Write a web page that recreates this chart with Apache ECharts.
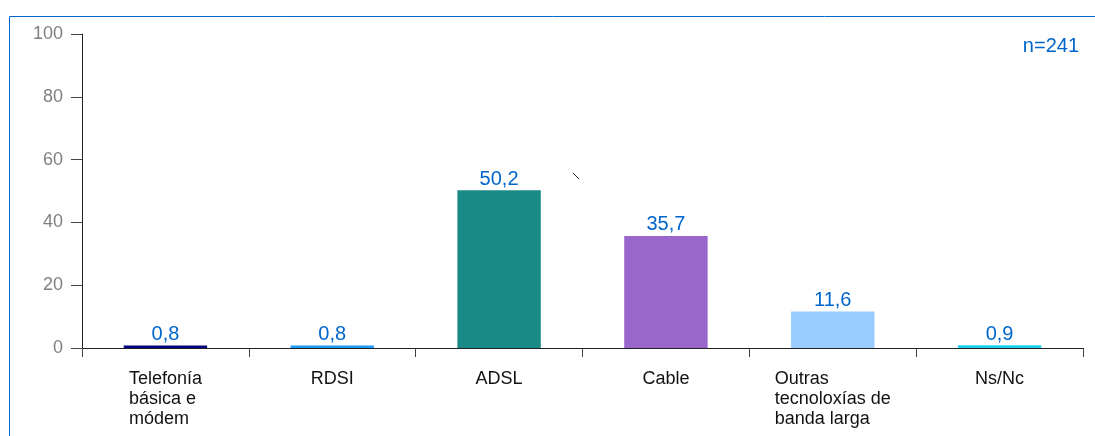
<!DOCTYPE html>
<html>
<head>
<meta charset="utf-8">
<script src="https://cdn.jsdelivr.net/npm/echarts@6/dist/echarts.min.js"></script>
<style>
html,body{margin:0;padding:0;background:#fff;}
#c{width:1095px;height:436px;}
</style>
</head>
<body>
<div id="c"></div>
<script>
var categories = ['Telefonía\nbásica e\nmódem', 'RDSI', 'ADSL', 'Cable', 'Outras\ntecnoloxías de\nbanda larga', 'Ns/Nc'];
var values = [0.8, 0.8, 50.2, 35.7, 11.6, 0.9];
var barColors = ['#000080', '#1a9cff', '#1a8a87', '#9966cc', '#99ccff', '#1ad1f0'];
var yTicks = [0, 20, 40, 60, 80, 100];
var note = 'n=241';

var chart = echarts.init(document.getElementById('c'), null, {renderer: 'canvas'});
var font = 'Arial, "Liberation Sans", sans-serif';
chart.setOption({
  animation: false,
  backgroundColor: '#fff',
  grid: {left: 82, right: 12, top: 34, bottom: 88, containLabel: false},
  xAxis: {
    type: 'category',
    data: categories,
    axisLine: {lineStyle: {color: '#222', width: 1}},
    axisTick: {show: true, interval: 0, length: 9, lineStyle: {color: '#444'}},
    axisLabel: {
      interval: 0,
      hideOverlap: false,
      margin: 21,
      fontFamily: font,
      fontSize: 18,
      color: '#111',
      lineHeight: 20,
      verticalAlign: 'top',
      formatter: function (v) {
        return v.split('\n').map(function (s) { return '{l|' + s + '}'; }).join('\n');
      },
      rich: {l: {align: 'left', fontFamily: font, fontSize: 18, color: '#111', lineHeight: 20}}
    }
  },
  yAxis: {
    type: 'value',
    min: 0, max: 100, interval: 20,
    axisLine: {show: true, lineStyle: {color: '#222', width: 1}},
    axisTick: {show: true, length: 11, lineStyle: {color: '#444'}},
    splitLine: {show: false},
    axisLabel: {
      margin: 19, fontFamily: font, fontSize: 18, color: '#808080',
      formatter: function (v) { return yTicks.indexOf(v) >= 0 ? String(v) : ''; }
    }
  },
  series: [{
    type: 'bar',
    barWidth: '50%',
    data: values.map(function (v, i) { return {value: v, itemStyle: {color: barColors[i]}}; }),
    label: {
      show: true, position: 'top', distance: 1,
      fontFamily: font, fontSize: 20, color: '#0066cc',
      formatter: function (p) { return String(p.value).replace('.', ','); }
    }
  }],
  graphic: [
    {type: 'polyline', shape: {points: [[9.5, 440], [9.5, 16.5], [1100, 16.5]]}, style: {stroke: '#0066cc', lineWidth: 1, fill: null}},
    {type: 'text', right: 16, top: 36, style: {text: note, fontFamily: font, fontSize: 20, fill: '#0066cc'}},
    {type: 'line', shape: {x1: 573, y1: 173, x2: 579, y2: 179}, style: {stroke: '#333', lineWidth: 1}}
  ]
});
</script>
</body>
</html>
